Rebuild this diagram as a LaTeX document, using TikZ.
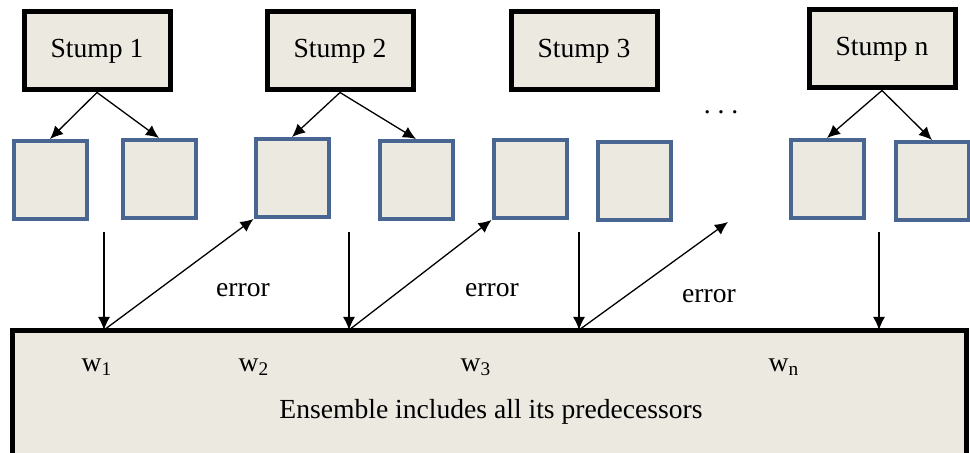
\documentclass[tikz,border=0pt]{standalone}
\usepackage{fontspec}
\setmainfont{Liberation Serif}
\usetikzlibrary{arrows.meta}
\definecolor{boxfill}{RGB}{236,233,225}
\definecolor{leafblue}{RGB}{73,101,146}

\begin{document}
\begin{tikzpicture}[x=0.5pt,y=-0.5pt,->,>={Latex[length=6.5pt,width=6pt]},
                    line width=0.65pt,font=\fontsize{13.8}{16}\selectfont]
  \tikzstyle{stump}=[draw=black,fill=boxfill,line width=2.5pt,minimum width=73pt,minimum height=39pt]
  \tikzstyle{leaf}=[draw=leafblue,fill=boxfill,line width=2pt,minimum width=36.5pt,minimum height=39pt]
  \clip (0,0) rectangle (970,453);

  \node[stump] (s1) at (97,51)  {Stump 1};
  \node[stump] (s2) at (340,51) {Stump 2};
  \node[stump] (s3) at (584,51) {Stump 3};
  \node[stump] (sn) at (882,49) {Stump n};

  \node[leaf] (l1) at (50,180)  {};
  \node[leaf] (l2) at (159,179) {};
  \node[leaf] (l3) at (292,178) {};
  \node[leaf] (l4) at (416,180) {};
  \node[leaf] (l5) at (530,179) {};
  \node[leaf] (l6) at (634,181) {};
  \node[leaf] (l7) at (827,179) {};
  \node[leaf] (l8) at (932,181) {};

  \node (dots) at (721,112) {.\ .\ .};

  \node[draw=black,fill=boxfill,line width=2.5pt,minimum width=477pt,
        minimum height=80pt] (ens) at (489,411) {};

  \node (w1) at (97,367)  {w\textsubscript{1}};
  \node (w2) at (254,367) {w\textsubscript{2}};
  \node (w3) at (476,367) {w\textsubscript{3}};
  \node (wn) at (784,367) {w\textsubscript{n}};
  \node (ensemble) at (491,412) {Ensemble includes all its predecessors};

  \node (err1) at (243,290) {error};
  \node (err2) at (492,290) {error};
  \node (err3) at (709,296) {error};

  \coordinate (a1) at (104,232); \coordinate (b1) at (104,330);
  \coordinate (a2) at (349,232); \coordinate (b2) at (349,330);
  \coordinate (a3) at (579,232); \coordinate (b3) at (579,330);
  \coordinate (an) at (879,232); \coordinate (bn) at (879,330);
  \coordinate (c3) at (728,222);

  \path (s1.south) edge (l1.north)
        (s1.south) edge (l2.north)
        (s2.south) edge (l3.north)
        (s2.south) edge (l4.north)
        (sn.south) edge (l7.north)
        (sn.south) edge (l8.north);

  \path (a1) edge (b1)
        (a2) edge (b2)
        (a3) edge (b3)
        (an) edge (bn);

  \path (b1) edge (l3.south west)
        (b2) edge (l5.south west)
        (b3) edge (c3);
\end{tikzpicture}
\end{document}
